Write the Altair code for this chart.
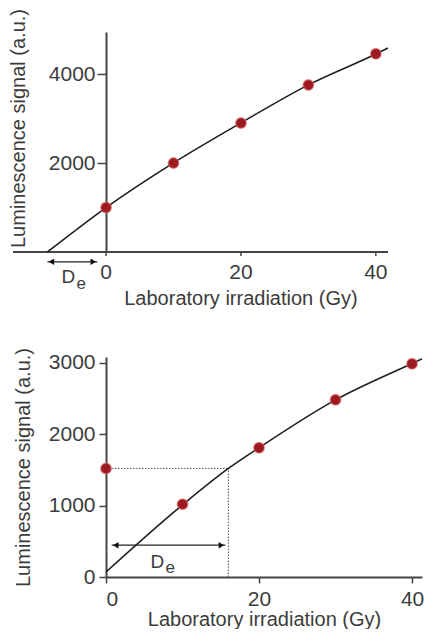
import altair as alt
import pandas as pd

# ---- data ----
# top panel (additive dose method)
top_dose = [0, 10, 20, 30, 40]
top_signal = [1000, 2000, 2900, 3760, 4460]
top_fit_dose = [-8.7, 0, 10, 20, 30, 40, 41.8]
top_fit_signal = [0, 1000, 2005, 2905, 3760, 4455, 4590]
top_arrow_dose = [-8.7, -1.3]
top_arrow_signal = [-220]
top_label_dose = [-5.6, -3.7]
top_label_signal = [-560, -720]
top_x_domain = [-13.8, 41.8]
top_y_domain = [0, 4950]
top_x_ticks = [0, 20, 40]
top_x_ticklabels = ["0", "20", "40"]
top_x_tick_end = [-90]        # tick length expressed in signal units
top_x_title_pos = [20]

# bottom panel (regenerative dose method)
bot_dose = [0, 10, 20, 30, 40]
bot_signal = [1520, 1020, 1810, 2480, 2985]
bot_fit_dose = [0, 10, 16, 20, 30, 40, 42]
bot_fit_signal = [70, 1010, 1520, 1810, 2480, 2990, 3090]
bot_de = [16]
bot_natural = [1520]
bot_arrow_dose = [0.75, 15.6]
bot_arrow_signal = [445]
bot_label_dose = [6.7, 8.4]
bot_label_signal = [210, 125]
bot_x_domain = [0, 41.3]
bot_y_domain = [0, 3080]

X_TITLE = "Laboratory irradiation (Gy)"
Y_TITLE = "Luminescence signal (a.u.)"

FONT = "Liberation Sans"
TXT = "#3c3c3c"
AX = "#454545"
PT = "#9c1a20"


def pts_df(xs, ys):
    return pd.DataFrame({"x": xs, "y": ys})


def points_layer(df, xe, ye):
    return alt.Chart(df).mark_point(
        filled=True, size=110, color=PT, stroke="#d2605f",
        strokeWidth=1.5, strokeOpacity=0.6, opacity=1
    ).encode(x=xe, y=ye)


def fit_layer(df, xe, ye, clip=False):
    return alt.Chart(df).mark_line(
        color="#1e1e1e", strokeWidth=1.6, interpolate="monotone", clip=clip
    ).encode(x=xe, y=ye)


def arrow_layers(ax, ay, xe, ye):
    rule_df = pd.DataFrame({"x": [ax[0]], "x2": [ax[1]], "y": [ay[0]]})
    rule = alt.Chart(rule_df).mark_rule(color="#222", strokeWidth=1.2).encode(
        x=xe, x2="x2", y=ye)
    lh = alt.Chart(pd.DataFrame({"x": [ax[0]], "y": [ay[0]]})).mark_point(
        shape="triangle-left", filled=True, size=40, color="#111", opacity=1, xOffset=4
    ).encode(x=xe, y=ye)
    rh = alt.Chart(pd.DataFrame({"x": [ax[1]], "y": [ay[0]]})).mark_point(
        shape="triangle-right", filled=True, size=40, color="#111", opacity=1, xOffset=-4
    ).encode(x=xe, y=ye)
    return [rule, lh, rh]


def de_label(lx, ly, xe, ye):
    d = alt.Chart(pd.DataFrame({"x": [lx[0]], "y": [ly[0]], "t": ["D"]})).mark_text(
        font=FONT, fontSize=19, color=TXT, baseline="middle", align="center"
    ).encode(x=xe, y=ye, text="t")
    e = alt.Chart(pd.DataFrame({"x": [lx[1]], "y": [ly[1]], "t": ["e"]})).mark_text(
        font=FONT, fontSize=17, color=TXT, baseline="middle", align="center"
    ).encode(x=xe, y=ye, text="t")
    return [d, e]


axis_common = dict(
    grid=False, domainColor=AX, domainWidth=2, tickColor=AX, tickWidth=1.5,
    labelFont=FONT, labelFontSize=21, labelColor=TXT, format="d",
    titleFont=FONT, titleFontSize=20, titleFontWeight="normal", titleColor=TXT,
)

# ---- top panel ----
# The plot area starts at dose 0 (where the y axis stands); negative doses are
# drawn to its left through the scale range.
TOP_W = 282
TOP_H = 220
tx = alt.X("x:Q",
           scale=alt.Scale(domain=top_x_domain, range=[-93, TOP_W], nice=False, zero=False),
           axis=None)
ty = alt.Y("y:Q", scale=alt.Scale(domain=top_y_domain, nice=False, zero=False),
           axis=alt.Axis(title=Y_TITLE, values=[2000, 4000], tickSize=9,
                         labelPadding=2, titlePadding=20, titleY=96, **axis_common))

xaxis_line = alt.Chart(pd.DataFrame({"x": [top_x_domain[0]], "x2": [top_x_domain[1]],
                                     "y": [top_y_domain[0]]})
                       ).mark_rule(color=AX, strokeWidth=2).encode(x=tx, x2="x2", y=ty)
xaxis_ticks = alt.Chart(pd.DataFrame({"x": top_x_ticks, "y": [0] * len(top_x_ticks),
                                      "y2": top_x_tick_end * len(top_x_ticks)})
                        ).mark_rule(color=AX, strokeWidth=1.5).encode(x=tx, y=ty, y2="y2")
xaxis_labels = alt.Chart(pd.DataFrame({"x": top_x_ticks, "y": [0] * len(top_x_ticks),
                                       "t": top_x_ticklabels})
                         ).mark_text(font=FONT, fontSize=21, color=TXT, align="center",
                                     baseline="top", dy=10).encode(x=tx, y=ty, text="t")
xaxis_title = alt.Chart(pd.DataFrame({"x": top_x_title_pos, "y": [0], "t": [X_TITLE]})
                        ).mark_text(font=FONT, fontSize=20, color=TXT, align="center",
                                    baseline="top", dy=37).encode(x=tx, y=ty, text="t")

top = alt.layer(
    xaxis_line, xaxis_ticks, xaxis_labels, xaxis_title,
    fit_layer(pts_df(top_fit_dose, top_fit_signal), tx, ty),
    *arrow_layers(top_arrow_dose, top_arrow_signal, tx, ty),
    *de_label(top_label_dose, top_label_signal, tx, ty),
    points_layer(pts_df(top_dose, top_signal), tx, ty),
).properties(width=TOP_W, height=TOP_H)

# ---- bottom panel ----
bx = alt.X("x:Q", scale=alt.Scale(domain=bot_x_domain, nice=False, zero=False),
           axis=alt.Axis(title=X_TITLE, values=[0, 20, 40], tickSize=6,
                         labelPadding=5, titlePadding=0, **axis_common))
by = alt.Y("y:Q", scale=alt.Scale(domain=bot_y_domain, nice=False, zero=False),
           axis=alt.Axis(title=Y_TITLE, values=[0, 1000, 2000, 3000],
                         tickSize=7, labelPadding=4, titlePadding=15, **axis_common))

hdot = alt.Chart(pd.DataFrame({"x": [0], "x2": bot_de, "y": bot_natural})).mark_rule(
    color="#555", strokeWidth=1, strokeDash=[1.5, 1.5]).encode(x=bx, x2="x2", y=by)
vdot = alt.Chart(pd.DataFrame({"x": bot_de, "y": [0], "y2": bot_natural})).mark_rule(
    color="#555", strokeWidth=1, strokeDash=[1.5, 1.5]).encode(x=bx, y=by, y2="y2")

bottom = alt.layer(
    hdot, vdot,
    fit_layer(pts_df(bot_fit_dose, bot_fit_signal), bx, by, clip=True),
    *arrow_layers(bot_arrow_dose, bot_arrow_signal, bx, by),
    *de_label(bot_label_dose, bot_label_signal, bx, by),
    points_layer(pts_df(bot_dose, bot_signal), bx, by),
).properties(width=316, height=220)

chart = alt.vconcat(top, bottom, spacing=38).properties(
    padding={"left": 0, "top": 0, "right": 0, "bottom": 0},
    background="white",
).configure_view(stroke=None)

chart.save("out.html", embed_options={"renderer": "svg", "actions": False})
